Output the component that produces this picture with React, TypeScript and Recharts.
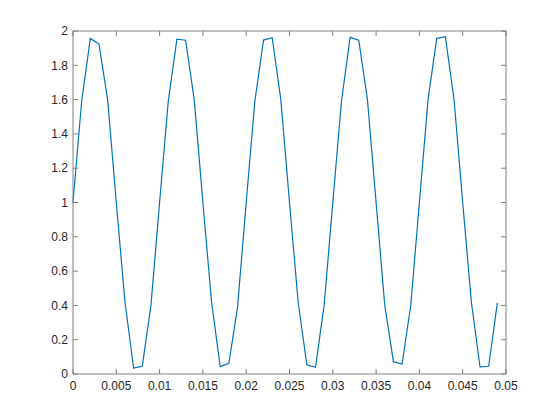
import React from "react";
import { LineChart, Line, XAxis, YAxis } from "recharts";

const times = [
  0, 0.001, 0.002, 0.003, 0.004, 0.005, 0.006, 0.007, 0.008, 0.009,
  0.01, 0.011, 0.012, 0.013, 0.014, 0.015, 0.016, 0.017, 0.018, 0.019,
  0.02, 0.021, 0.022, 0.023, 0.024, 0.025, 0.026, 0.027, 0.028, 0.029,
  0.03, 0.031, 0.032, 0.033, 0.034, 0.035, 0.036, 0.037, 0.038, 0.039,
  0.04, 0.041, 0.042, 0.043, 0.044, 0.045, 0.046, 0.047, 0.048, 0.049,
];

const values = [
  1.0, 1.59, 1.957, 1.924, 1.6, 1.0, 0.42, 0.035, 0.045, 0.4,
  1.0, 1.59, 1.952, 1.946, 1.6, 1.0, 0.42, 0.043, 0.062, 0.39,
  1.0, 1.59, 1.947, 1.961, 1.6, 1.0, 0.42, 0.054, 0.039, 0.4,
  1.0, 1.59, 1.963, 1.946, 1.6, 1.0, 0.4, 0.072, 0.058, 0.4,
  1.0, 1.6, 1.957, 1.967, 1.6, 1.0, 0.42, 0.041, 0.045, 0.415,
];

const xTicks = [0, 0.005, 0.01, 0.015, 0.02, 0.025, 0.03, 0.035, 0.04, 0.045, 0.05];
const yTicks = [0, 0.2, 0.4, 0.6, 0.8, 1, 1.2, 1.4, 1.6, 1.8, 2];

const data = times.map((t, i) => ({ t, y: values[i] }));

const axisColor = "#808080";
const textStyle = { fill: "#262626", fontSize: 12, fontFamily: "Arial, 'Liberation Sans', sans-serif" };
const NoLabel = () => <g />;

export default function App() {
  return (
    <div style={{ position: "absolute", left: 0, top: 0, width: 560, height: 420, background: "#fff" }}>
      <LineChart width={560} height={420} data={data} margin={{ top: 30, right: 53, bottom: 16, left: 33 }}>
        <XAxis
          xAxisId="bottom"
          dataKey="t"
          type="number"
          domain={[0, 0.05]}
          ticks={xTicks}
          interval={0}
          height={30}
          tickSize={-5}
          tickMargin={12}
          stroke={axisColor}
          tick={textStyle}
          tickLine={{ stroke: axisColor }}
          axisLine={{ stroke: axisColor }}
        />
        <XAxis
          xAxisId="top"
          orientation="top"
          dataKey="t"
          type="number"
          domain={[0, 0.05]}
          ticks={xTicks}
          interval={0}
          height={1}
          tickSize={-5}
          tick={NoLabel}
          stroke={axisColor}
          tickLine={{ stroke: axisColor }}
          axisLine={{ stroke: axisColor }}
        />
        <YAxis
          yAxisId="left"
          type="number"
          domain={[0, 2]}
          ticks={yTicks}
          interval={0}
          width={40}
          tickSize={-5}
          tickMargin={10}
          stroke={axisColor}
          tick={textStyle}
          tickLine={{ stroke: axisColor }}
          axisLine={{ stroke: axisColor }}
        />
        <YAxis
          yAxisId="right"
          orientation="right"
          type="number"
          domain={[0, 2]}
          ticks={yTicks}
          interval={0}
          width={1}
          tickSize={-5}
          tick={NoLabel}
          stroke={axisColor}
          tickLine={{ stroke: axisColor }}
          axisLine={{ stroke: axisColor }}
        />
        <Line
          xAxisId="top"
          yAxisId="right"
          type="linear"
          dataKey="y"
          stroke="none"
          strokeWidth={0}
          dot={false}
          activeDot={false}
          legendType="none"
          isAnimationActive={false}
        />
        <Line
          xAxisId="bottom"
          yAxisId="left"
          type="linear"
          dataKey="y"
          stroke="#0072BD"
          strokeWidth={1.2}
          dot={false}
          isAnimationActive={false}
        />
      </LineChart>
    </div>
  );
}
